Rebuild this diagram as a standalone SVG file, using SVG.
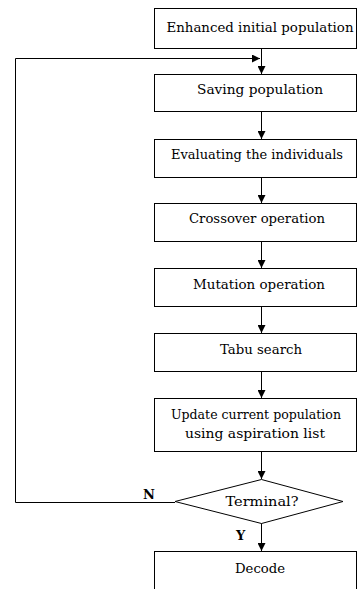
<svg xmlns="http://www.w3.org/2000/svg" width="358" height="589" viewBox="0 0 358 589">
<style>
.box{fill:#fff;stroke:#000;stroke-width:1}
.ln{fill:none;stroke:#000;stroke-width:1}
.t{font-family:"DejaVu Serif","Liberation Serif",serif;font-size:13px;fill:#000;text-anchor:middle}
.lbl{font-family:"DejaVu Serif","Liberation Serif",serif;font-weight:bold;font-size:13px;fill:#000}
</style>
<defs>
<marker id="ah" viewBox="0 0 8 8" refX="8" refY="4" markerWidth="8" markerHeight="8" markerUnits="userSpaceOnUse" orient="auto">
<path d="M0,0 L8,4 L0,8 Z" fill="#000"/>
</marker>
</defs>
<rect width="358" height="589" fill="#fff"/>
<g id="connectors">
<line class="ln" x1="261.5" y1="48" x2="261.5" y2="74" marker-end="url(#ah)"/>
<line class="ln" x1="261.5" y1="111" x2="261.5" y2="139" marker-end="url(#ah)"/>
<line class="ln" x1="261.5" y1="177" x2="261.5" y2="203" marker-end="url(#ah)"/>
<line class="ln" x1="261.5" y1="242" x2="261.5" y2="268" marker-end="url(#ah)"/>
<line class="ln" x1="261.5" y1="307" x2="261.5" y2="333" marker-end="url(#ah)"/>
<line class="ln" x1="261.5" y1="371" x2="261.5" y2="398" marker-end="url(#ah)"/>
<line class="ln" x1="261.5" y1="451" x2="261.5" y2="479" marker-end="url(#ah)"/>
<line class="ln" x1="261.5" y1="523" x2="261.5" y2="551" marker-end="url(#ah)"/>
<polyline class="ln" points="175,502.5 15.5,502.5 15.5,58.5 260,58.5" marker-end="url(#ah)"/>
<text class="lbl" x="143" y="499">N</text>
<text class="lbl" x="236" y="540">Y</text>
</g>
<g id="n1"><rect class="box" x="154.5" y="8.5" width="202" height="40"/><text class="t" x="260" y="32" textLength="187" lengthAdjust="spacingAndGlyphs">Enhanced initial population</text></g>
<g id="n2"><rect class="box" x="154.5" y="74.5" width="202" height="37"/><text class="t" x="260" y="94" textLength="126" lengthAdjust="spacingAndGlyphs">Saving population</text></g>
<g id="n3"><rect class="box" x="154.5" y="139.5" width="202" height="38"/><text class="t" x="257" y="159" textLength="172" lengthAdjust="spacingAndGlyphs">Evaluating the individuals</text></g>
<g id="n4"><rect class="box" x="154.5" y="203.5" width="202" height="38"/><text class="t" x="257" y="223" textLength="136" lengthAdjust="spacingAndGlyphs">Crossover operation</text></g>
<g id="n5"><rect class="box" x="154.5" y="268.5" width="202" height="38"/><text class="t" x="259" y="289" textLength="132" lengthAdjust="spacingAndGlyphs">Mutation operation</text></g>
<g id="n6"><rect class="box" x="154.5" y="333.5" width="202" height="38"/><text class="t" x="261" y="354" textLength="82" lengthAdjust="spacingAndGlyphs">Tabu search</text></g>
<g id="n7"><rect class="box" x="154.5" y="398.5" width="202" height="53"/><text class="t" x="256" y="419" textLength="170" lengthAdjust="spacingAndGlyphs">Update current population</text><text class="t" x="255" y="438" textLength="140" lengthAdjust="spacingAndGlyphs">using aspiration list</text></g>
<g id="n8"><polygon class="box" points="261.5,479.5 343,501.5 261.5,523.5 175,501.5"/><text class="t" x="262" y="506" textLength="73" lengthAdjust="spacingAndGlyphs">Terminal?</text></g>
<g id="n9"><rect class="box" x="154.5" y="551.5" width="202" height="45"/><text class="t" x="260" y="573" textLength="50" lengthAdjust="spacingAndGlyphs">Decode</text></g>
</svg>
